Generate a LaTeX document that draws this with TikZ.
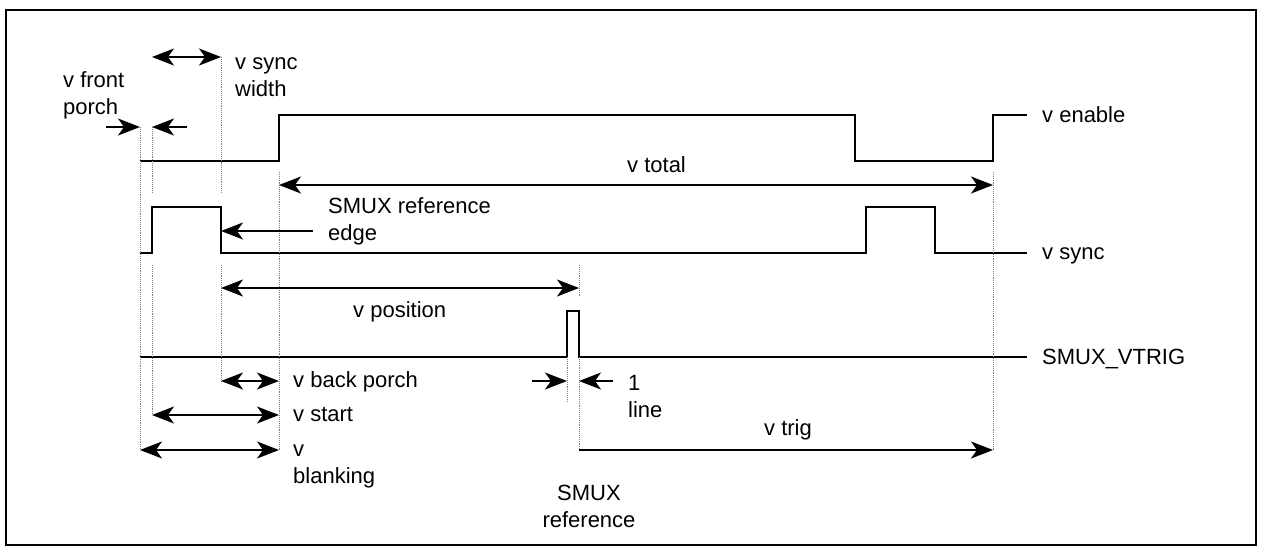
\documentclass[tikz,border=0pt]{standalone}
\usepackage{fontspec}
\setmainfont{Liberation Sans}
\usetikzlibrary{arrows.meta}
\begin{document}
\begin{tikzpicture}[x=1pt,y=-1pt,
  sig/.style={line width=2pt, line join=miter},
  dim/.style={line width=1.5pt},
  dbl/.style={dim, arrows={Stealth[length=22pt,width=17pt,inset=6pt]-Stealth[length=22pt,width=17pt,inset=6pt]}},
  fwd/.style={dim, arrows={-Stealth[length=22pt,width=17pt,inset=6pt]}},
  guide/.style={densely dotted, gray, line width=0.9pt},
  lbl/.style={font=\fontsize{22}{27}\selectfont, inner sep=0pt, anchor=base west, align=left},
  clbl/.style={font=\fontsize{22}{27}\selectfont, inner sep=0pt, anchor=base, align=center}
]
\useasboundingbox (0,0) rectangle (1262,547);
\draw[line width=2.5pt] (6,10) rectangle (1256,545);

% ---- signal coordinates
\coordinate (en0) at (140,161); \coordinate (en1) at (279,161); \coordinate (en2) at (279,115);
\coordinate (en3) at (855,115); \coordinate (en4) at (855,161); \coordinate (en5) at (993,161);
\coordinate (en6) at (993,115); \coordinate (en7) at (1027,115);
\coordinate (sy0) at (140,253); \coordinate (sy1) at (152,253); \coordinate (sy2) at (152,207);
\coordinate (sy3) at (221,207); \coordinate (sy4) at (221,253); \coordinate (sy5) at (866,253);
\coordinate (sy6) at (866,207); \coordinate (sy7) at (935,207); \coordinate (sy8) at (935,253);
\coordinate (sy9) at (1027,253);
\coordinate (tr0) at (140,357); \coordinate (tr1) at (567,357); \coordinate (tr2) at (567,311);
\coordinate (tr3) at (579,311); \coordinate (tr4) at (579,357); \coordinate (tr5) at (1027,357);

\draw[sig] (en0) -- (en1) -- (en2) -- (en3) -- (en4) -- (en5) -- (en6) -- (en7);
\draw[sig] (sy0) -- (sy1) -- (sy2) -- (sy3) -- (sy4) -- (sy5) -- (sy6) -- (sy7) -- (sy8) -- (sy9);
\draw[sig] (tr0) -- (tr1) -- (tr2) -- (tr3) -- (tr4) -- (tr5);

% ---- guide lines
\coordinate (g1a) at (140,127); \coordinate (g1b) at (140,450);
\coordinate (g2a) at (152,127); \coordinate (g2b) at (152,193);
\coordinate (g2c) at (152,265); \coordinate (g2d) at (152,415);
\coordinate (g3a) at (221,57);  \coordinate (g3b) at (221,193);
\coordinate (g3c) at (221,265); \coordinate (g3d) at (221,381);
\coordinate (g4a) at (279,172); \coordinate (g4b) at (279,450);
\coordinate (g5a) at (567,357); \coordinate (g5b) at (567,402);
\coordinate (g6a) at (579,265); \coordinate (g6b) at (579,297);
\coordinate (g6c) at (579,357); \coordinate (g6d) at (579,450);
\coordinate (g7a) at (993,172); \coordinate (g7b) at (993,450);
\draw[guide] (g1a) -- (g1b);
\draw[guide] (g2a) -- (g2b);
\draw[guide] (g2c) -- (g2d);
\draw[guide] (g3a) -- (g3b);
\draw[guide] (g3c) -- (g3d);
\draw[guide] (g4a) -- (g4b);
\draw[guide] (g5a) -- (g5b);
\draw[guide] (g6a) -- (g6b);
\draw[guide] (g6c) -- (g6d);
\draw[guide] (g7a) -- (g7b);

% ---- dimension arrows
\coordinate (sw0) at (152,57);  \coordinate (sw1) at (221,57);
\coordinate (fp0) at (106,127); \coordinate (fp1) at (140,127);
\coordinate (fp2) at (187,127); \coordinate (fp3) at (152,127);
\coordinate (vt0) at (279,185); \coordinate (vt1) at (993,185);
\coordinate (ed0) at (313,231); \coordinate (ed1) at (221,231);
\coordinate (vp0) at (221,288); \coordinate (vp1) at (579,288);
\coordinate (bp0) at (221,381); \coordinate (bp1) at (279,381);
\coordinate (ln0) at (532,381); \coordinate (ln1) at (567,381);
\coordinate (ln2) at (613,381); \coordinate (ln3) at (579,381);
\coordinate (vs0) at (152,415); \coordinate (vs1) at (279,415);
\coordinate (vb0) at (140,450); \coordinate (vb1) at (279,450);
\coordinate (tg0) at (579,450); \coordinate (tg1) at (993,450);

\draw[dbl] (sw0) -- (sw1);
\draw[fwd] (fp0) -- (fp1);
\draw[fwd] (fp2) -- (fp3);
\draw[dbl] (vt0) -- (vt1);
\draw[fwd] (ed0) -- (ed1);
\draw[dbl] (vp0) -- (vp1);
\draw[dbl] (bp0) -- (bp1);
\draw[fwd] (ln0) -- (ln1);
\draw[fwd] (ln2) -- (ln3);
\draw[dbl] (vs0) -- (vs1);
\draw[dbl] (vb0) -- (vb1);
\draw[fwd] (tg0) -- (tg1);

% ---- labels (base anchor = baseline of last line)
\node[lbl] (lfp) at (63,114) {v front\\porch};
\node[lbl] (lsw) at (235,96) {v sync\\width};
\node[lbl] (len) at (1042,122) {v enable};
\node[lbl] (lvt) at (627,172) {v total};
\node[lbl] (lre) at (328,240) {SMUX reference\\edge};
\node[lbl] (lsy) at (1042,259) {v sync};
\node[lbl] (lvp) at (353,317) {v position};
\node[lbl] (ltr) at (1042,364) {SMUX\_VTRIG};
\node[lbl] (lbp) at (293,387) {v back porch};
\node[lbl] (l1l) at (628,417) {1\\line};
\node[lbl] (lvs) at (293,421) {v start};
\node[lbl] (lvg) at (764,435) {v trig};
\node[lbl] (lvb) at (293,483) {v\\blanking};
\node[clbl] (lsr) at (589,527) {SMUX\\reference};
\end{tikzpicture}
\end{document}
